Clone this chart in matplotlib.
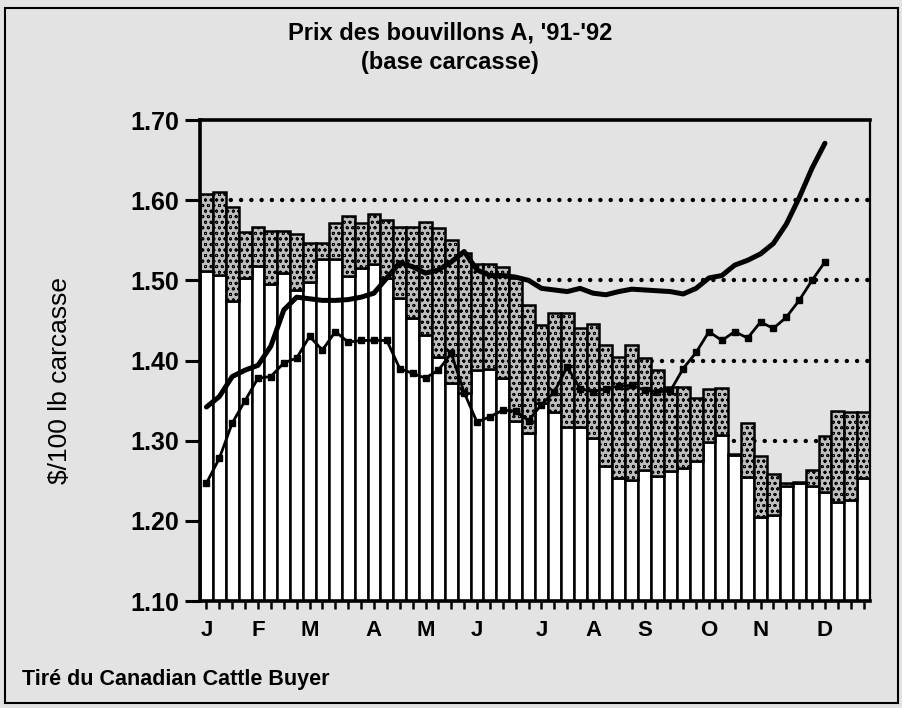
import numpy as np
import matplotlib
matplotlib.use("Agg")
import matplotlib.pyplot as plt
from matplotlib.patches import Rectangle

plt.rcParams['font.family'] = ['Liberation Sans', 'DejaVu Sans']
plt.rcParams['hatch.linewidth'] = 0.6

# weekly data (52 weeks)
bar_top = [1.608, 1.610, 1.592, 1.560, 1.566, 1.562, 1.561, 1.558, 1.547, 1.547,
           1.571, 1.580, 1.572, 1.583, 1.575, 1.567, 1.567, 1.573, 1.565, 1.550,
           1.534, 1.521, 1.521, 1.517, 1.503, 1.469, 1.444, 1.459, 1.459, 1.440,
           1.446, 1.419, 1.405, 1.419, 1.403, 1.388, 1.367, 1.367, 1.353, 1.365,
           1.366, 1.284, 1.322, 1.281, 1.259, 1.247, 1.249, 1.263, 1.306, 1.337,
           1.336, 1.336]
bar_low = [1.512, 1.507, 1.474, 1.503, 1.518, 1.495, 1.509, 1.488, 1.498, 1.527,
           1.527, 1.505, 1.516, 1.520, 1.503, 1.478, 1.453, 1.432, 1.405, 1.372,
           1.359, 1.388, 1.390, 1.378, 1.325, 1.309, 1.347, 1.336, 1.317, 1.317,
           1.303, 1.269, 1.253, 1.251, 1.263, 1.256, 1.262, 1.266, 1.275, 1.298,
           1.307, 1.282, 1.255, 1.205, 1.207, 1.244, 1.247, 1.244, 1.236, 1.224,
           1.226, 1.254]

# ligne épaisse
line_thick = [1.342, 1.355, 1.380, 1.388, 1.394, 1.418, 1.463, 1.479, 1.477, 1.475,
              1.475, 1.476, 1.479, 1.484, 1.503, 1.522, 1.517, 1.509, 1.513, 1.523,
              1.536, 1.513, 1.506, 1.506, 1.504, 1.500, 1.490, 1.488, 1.486, 1.490,
              1.484, 1.482, 1.486, 1.489, 1.488, 1.487, 1.486, 1.483, 1.490, 1.503,
              1.506, 1.519, 1.525, 1.533, 1.546, 1.570, 1.603, 1.640, 1.671]
# ligne fine avec marqueurs
line_thin = [1.247, 1.278, 1.322, 1.350, 1.378, 1.380, 1.397, 1.403, 1.430, 1.413,
             1.436, 1.423, 1.425, 1.425, 1.425, 1.390, 1.384, 1.378, 1.388, 1.409,
             1.360, 1.323, 1.330, 1.338, 1.337, 1.325, 1.345, 1.361, 1.392, 1.365,
             1.361, 1.365, 1.368, 1.369, 1.363, 1.361, 1.362, 1.390, 1.410, 1.436,
             1.425, 1.436, 1.428, 1.448, 1.440, 1.454, 1.475, 1.500, 1.523]

month_week = [0, 4, 8, 13, 17, 21, 26, 30, 34, 39, 43, 48]
month_labels = ['J', 'F', 'M', 'A', 'M', 'J', 'J', 'A', 'S', 'O', 'N', 'D']

y_ticks = [1.10, 1.20, 1.30, 1.40, 1.50, 1.60, 1.70]
grid_lines = [1.30, 1.40, 1.50, 1.60]

BG = '#e3e3e3'

fig = plt.figure(figsize=(9.03, 7.08), dpi=100, facecolor=BG)
ax = fig.add_axes([0.2215, 0.1511, 0.742, 0.6794])
ax.set_facecolor(BG)

weeks = np.arange(len(bar_top))
top = np.array(bar_top)
low = np.array(bar_low)

# pointillés
for g in grid_lines:
    ax.axhline(g, color='black', lw=3.2, linestyle=(0, (0.01, 2.3)),
               dash_capstyle='round', zorder=1)

# barres : partie blanche + partie pointillée
ax.bar(weeks, low - 1.10, bottom=1.10, width=1.0, color='white',
       edgecolor='black', linewidth=1.8, zorder=2)
ax.bar(weeks, top - low, bottom=low, width=1.0, color='#bdbdbd',
       edgecolor='black', linewidth=1.8, hatch='ooo', zorder=2)

# lignes
ax.plot(np.arange(len(line_thick)), line_thick, color='black', lw=3.6, zorder=4,
        solid_joinstyle='round', solid_capstyle='round')
ax.plot(np.arange(len(line_thin)), line_thin, color='black', lw=2.0,
        marker='s', markersize=4.2, zorder=4)

ax.set_xlim(-0.5, len(bar_top) - 0.5)
ax.set_ylim(1.10, 1.70)

# axes
for side in ['left', 'top', 'bottom']:
    ax.spines[side].set_linewidth(2.6)
ax.spines['right'].set_linewidth(1.6)

ax.set_yticks(y_ticks)
ax.set_yticklabels(['%.2f' % v for v in y_ticks], fontsize=18, fontweight='bold')
ax.tick_params(axis='y', length=11, width=2.2, pad=4)

xlabels = [''] * len(bar_top)
for w, m in zip(month_week, month_labels):
    xlabels[w] = m
ax.set_xticks(weeks)
ax.set_xticklabels(xlabels, fontsize=16, fontweight='bold')
ax.tick_params(axis='x', length=6, width=1.8, pad=8)

# textes
fig.text(450 / 903, 1 - 33 / 708, "Prix des bouvillons A, '91-'92",
         ha='center', va='center', fontsize=17, fontweight='bold')
fig.text(450 / 903, 1 - 62 / 708, "(base carcasse)",
         ha='center', va='center', fontsize=17, fontweight='bold')
fig.text(60 / 903, 1 - 380 / 708, "$/100 lb carcasse", rotation=90,
         ha='center', va='center', fontsize=19)
fig.text(22 / 903, 1 - 680 / 708, "Tiré du Canadian Cattle Buyer",
         ha='left', va='center', fontsize=15.5, fontweight='bold')

# cadre
fig.patches.append(Rectangle((5 / 903, 5 / 708), 893 / 903, 695 / 708,
                             transform=fig.transFigure, fill=False,
                             edgecolor='black', lw=1.5))

fig.savefig("out.png", dpi=100, facecolor=BG)
